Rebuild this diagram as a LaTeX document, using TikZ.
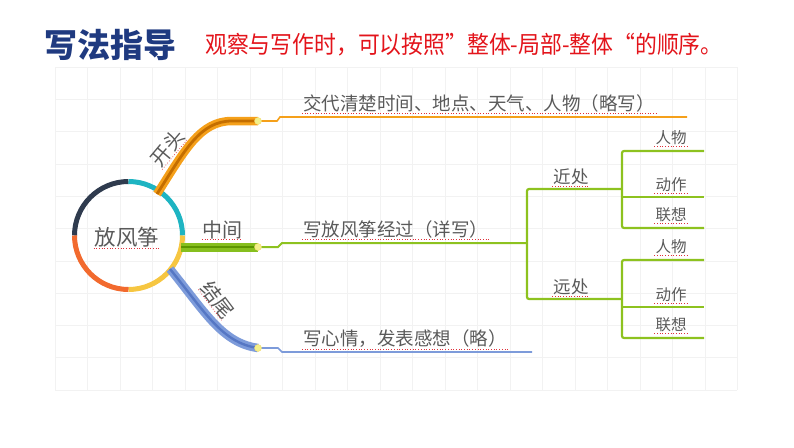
\documentclass[tikz,border=0pt]{standalone}
\usepackage{fontspec}
\newfontfamily\cjk{Noto Sans CJK SC}
\definecolor{gridc}{HTML}{F2F2F2}
\definecolor{titleblue}{HTML}{1F3A80}
\definecolor{titlered}{HTML}{E3141B}
\definecolor{txt}{HTML}{5A5A5A}
\definecolor{navy}{HTML}{2F3B4E}
\definecolor{tealc}{HTML}{1EB4C2}
\definecolor{sun}{HTML}{F6C641}
\definecolor{tomato}{HTML}{F26A2E}
\definecolor{orA}{HTML}{F5A01A}
\definecolor{orB}{HTML}{C46E00}
\definecolor{grA}{HTML}{86BF1E}
\definecolor{grB}{HTML}{5C9500}
\definecolor{grL}{HTML}{8DC21F}
\definecolor{blA}{HTML}{7D9BDA}
\definecolor{blB}{HTML}{5677C4}
\definecolor{dotc}{HTML}{F3F08A}
\definecolor{spellc}{HTML}{E0303A}
\newcommand\spellline[1]{\draw[spellc, dotted, line width=0.7pt] (#1.south west) -- (#1.south east);}
\begin{document}
\begin{tikzpicture}[x=1pt,y=-1pt,
  gridline/.style={gridc, line width=0.6pt},
  lbl/.style={font=\cjk\fontsize{18.5}{20}\selectfont, text=txt, inner sep=1pt},
  small/.style={font=\cjk\fontsize{15.5}{17}\selectfont, text=txt, inner sep=1pt},
  mid/.style={font=\cjk\fontsize{17.5}{19}\selectfont, text=txt, inner sep=1pt},
  branchlbl/.style={font=\cjk\fontsize{20}{22}\selectfont, text=txt, inner sep=0pt},
  dotnode/.style={circle, fill=dotc, draw=dotc!80!orange, line width=0.4pt, minimum size=7pt, inner sep=0pt},
  arcseg/.style={line width=5pt},
  thin/.style={line width=1.6pt},
  tree/.style={grL, line width=2.2pt, rounded corners=2pt}
]
\useasboundingbox (0,0) rectangle (794,447);
% grid
\foreach \i in {0,...,21} \draw[gridline] ({55+\i*32.5},67) -- ({55+\i*32.5},390);
\foreach \j in {0,...,10} \draw[gridline] (55,{67+\j*32.3}) -- (737,{67+\j*32.3});

% title
\node[font=\cjk\bfseries\fontsize{33}{35}\selectfont, text=titleblue, anchor=west, inner sep=0pt] (title) at (44,45) {写法指导};
\node[font=\cjk\fontsize{24}{26}\selectfont, text=titlered, anchor=west, inner sep=0pt, xscale=0.91, transform shape] (subtitle) at (205,45) {观察与写作时，可以按照”整体-局部-整体“的顺序。};

% central circle
\coordinate (c) at (128.5,235.5);
\draw[arcseg, navy] (c) ++(-90:54) arc[start angle=-90, end angle=-180, radius=54];
\draw[arcseg, tealc] (c) ++(0:54) arc[start angle=0, end angle=-90, radius=54];
\draw[arcseg, sun] (c) ++(0:54) arc[start angle=0, end angle=90, radius=54];
\draw[arcseg, tomato] (c) ++(90:54) arc[start angle=90, end angle=180, radius=54];
\node[font=\cjk\fontsize{21.5}{23}\selectfont, text=txt, inner sep=1pt] (root) at (127,237) {放风筝};
\spellline{root}

% coordinates
\coordinate (o0) at (157,194);
\coordinate (odp) at (258,121);
\coordinate (oe) at (687,117);
\coordinate (g0) at (181,247);
\coordinate (gdp) at (258,247);
\coordinate (gj) at (527,243);
\coordinate (b0) at (170,269);
\coordinate (bdp) at (258,348);
\coordinate (be) at (532,352);

% top branch (orange)
\draw[orA, line width=8.5pt] (o0) .. controls (185,150) and (200,121) .. (232,121) -- (odp);
\draw[orB, line width=2.8pt] (o0) .. controls (185,150) and (200,121) .. (232,121) -- (odp);
\draw[orA, thin] (odp) -- (277,121) -- (280,117) -- (oe);
\node[dotnode] (od) at (odp) {};

% middle branch (green)
\draw[grA, line width=9pt] (g0) -- (gdp);
\draw[grB, line width=2.6pt] (g0) -- (gdp);
\draw[grL, line width=2pt] (gdp) -- (278,247) -- (282,243) -- (gj);
\node[dotnode] (gd) at (gdp) {};

% bottom branch (blue)
\draw[blA, line width=8.5pt] (b0) .. controls (205,312) and (222,343) .. (bdp);
\draw[blB, line width=2.4pt] (b0) .. controls (205,312) and (222,343) .. (bdp);
\draw[blA, thin] (bdp) -- (278,348) -- (282,352) -- (be);
\node[dotnode] (bd) at (bdp) {};

% branch labels
\node[branchlbl, rotate=50] (kaitou) at (168,148) {开头};
\spellline{kaitou}
\node[branchlbl] (zhongjian) at (222,230) {中间};
\spellline{zhongjian}
\node[branchlbl, rotate=-53] (jiewei) at (218,300) {结尾};
\spellline{jiewei}

% branch texts
\node[lbl, anchor=west] (t1) at (302,103) {交代清楚时间、地点、天气、人物（略写）};
\spellline{t1}
\node[lbl, anchor=west] (t2) at (302,229.5) {写放风筝经过（详写）};
\spellline{t2}
\node[lbl, anchor=west] (t3) at (302,339) {写心情，发表感想（略）};
\spellline{t3}

% tree
\coordinate (nb) at (622,189);
\coordinate (fb) at (622,299);
\draw[tree] (nb) -- (527,189) -- (527,299) -- (fb);
\node[mid] (near) at (571,177) {近处};
\spellline{near}
\node[mid] (far) at (571,287) {远处};
\spellline{far}

\coordinate (n1) at (704,151);
\coordinate (n2) at (704,197);
\coordinate (n3) at (704,228);
\coordinate (f1) at (704,260);
\coordinate (f2) at (704,307);
\coordinate (f3) at (704,338);
\draw[tree] (n1) -- (622,151) -- (622,228) -- (n3);
\draw[tree] (622,197) -- (n2);
\draw[tree] (f1) -- (622,260) -- (622,338) -- (f3);
\draw[tree] (622,307) -- (f2);

\node[small] (nren) at (671,138) {人物};
\spellline{nren}
\node[small] (ndong) at (671,185) {动作};
\spellline{ndong}
\node[small] (nlian) at (671,215) {联想};
\spellline{nlian}
\node[small] (fren) at (671,247) {人物};
\spellline{fren}
\node[small] (fdong) at (671,295) {动作};
\spellline{fdong}
\node[small] (flian) at (671,325) {联想};
\spellline{flian}
\end{tikzpicture}
\end{document}
